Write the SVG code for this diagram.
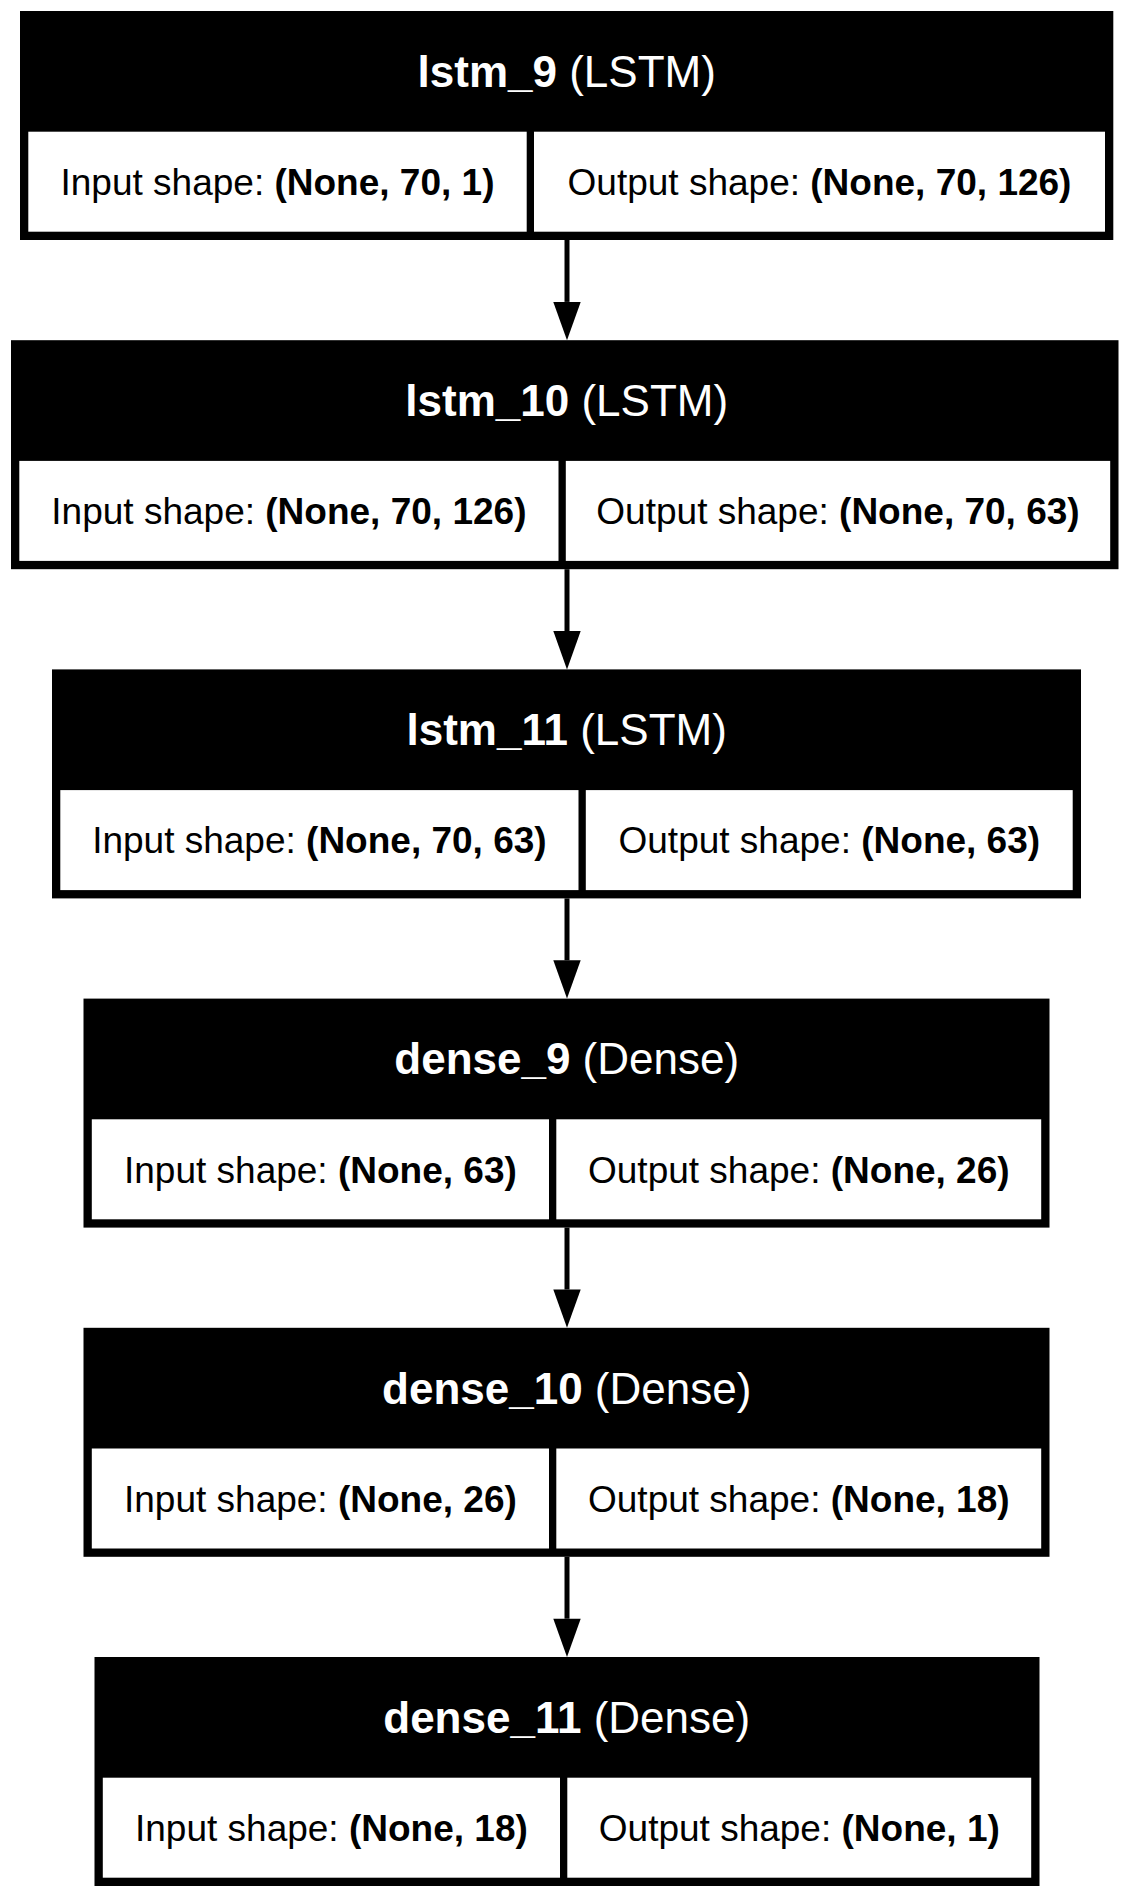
<svg xmlns="http://www.w3.org/2000/svg" width="1134" height="1897" viewBox="0 0 1134 1897">
<style>
.outer{fill:#000}
.cell{fill:#fff}
.t{font-family:"Liberation Sans",Arial,Helvetica,sans-serif;font-size:44px;fill:#fff;text-anchor:middle}
.c{font-family:"Liberation Sans",Arial,Helvetica,sans-serif;font-size:37px;fill:#000;text-anchor:middle}
.b{font-weight:bold}
.edge{stroke:#000;stroke-width:5;fill:none}
</style>
<defs>
<marker id="ah" markerUnits="userSpaceOnUse" markerWidth="39" markerHeight="28" refX="0" refY="13.7" orient="auto" viewBox="0 0 39 28" overflow="visible">
<path d="M0,0 L38.3,13.7 L0,27.4 Z" fill="#000"/>
</marker>
</defs>
<rect width="1134" height="1897" fill="#fff"/>
<g id="connectors">
<path class="edge" d="M567,240 V301.9" marker-end="url(#ah)"/>
<path class="edge" d="M567,569.2 V631.1" marker-end="url(#ah)"/>
<path class="edge" d="M567,898.4 V960.3" marker-end="url(#ah)"/>
<path class="edge" d="M567,1227.6 V1289.5" marker-end="url(#ah)"/>
<path class="edge" d="M567,1556.8 V1618.7" marker-end="url(#ah)"/>
</g>
<g id="lstm_9">
<rect class="outer" x="20" y="11" width="1093.3" height="229"/>
<rect class="cell" x="28.3" y="131.7" width="498.4" height="100"/>
<rect class="cell" x="534" y="131.7" width="571" height="100"/>
<text class="t" x="566.7" y="86.7"><tspan class="b">lstm_9</tspan> (LSTM)</text>
<text class="c" x="277.5" y="195">Input shape: <tspan class="b">(None, 70, 1)</tspan></text>
<text class="c" x="819.5" y="195">Output shape: <tspan class="b">(None, 70, 126)</tspan></text>
</g>
<g id="lstm_10">
<rect class="outer" x="11" y="340.2" width="1107.5" height="229"/>
<rect class="cell" x="19.3" y="460.9" width="539.2" height="100"/>
<rect class="cell" x="565.8" y="460.9" width="544.4" height="100"/>
<text class="t" x="566.7" y="415.9"><tspan class="b">lstm_10</tspan> (LSTM)</text>
<text class="c" x="288.9" y="524.2">Input shape: <tspan class="b">(None, 70, 126)</tspan></text>
<text class="c" x="838" y="524.2">Output shape: <tspan class="b">(None, 70, 63)</tspan></text>
</g>
<g id="lstm_11">
<rect class="outer" x="52" y="669.4" width="1029" height="229"/>
<rect class="cell" x="60.3" y="790.1" width="518.2" height="100"/>
<rect class="cell" x="585.8" y="790.1" width="486.9" height="100"/>
<text class="t" x="566.7" y="745.1"><tspan class="b">lstm_11</tspan> (LSTM)</text>
<text class="c" x="319.4" y="853.4">Input shape: <tspan class="b">(None, 70, 63)</tspan></text>
<text class="c" x="829.3" y="853.4">Output shape: <tspan class="b">(None, 63)</tspan></text>
</g>
<g id="dense_9">
<rect class="outer" x="83.5" y="998.6" width="966" height="229"/>
<rect class="cell" x="91.8" y="1119.3" width="457.2" height="100"/>
<rect class="cell" x="556.3" y="1119.3" width="484.9" height="100"/>
<text class="t" x="566.7" y="1074.3"><tspan class="b">dense_9</tspan> (Dense)</text>
<text class="c" x="320.4" y="1182.6">Input shape: <tspan class="b">(None, 63)</tspan></text>
<text class="c" x="798.8" y="1182.6">Output shape: <tspan class="b">(None, 26)</tspan></text>
</g>
<g id="dense_10">
<rect class="outer" x="83.5" y="1327.8" width="966" height="229"/>
<rect class="cell" x="91.8" y="1448.5" width="457.2" height="100"/>
<rect class="cell" x="556.3" y="1448.5" width="484.9" height="100"/>
<text class="t" x="566.7" y="1403.5"><tspan class="b">dense_10</tspan> (Dense)</text>
<text class="c" x="320.4" y="1511.8">Input shape: <tspan class="b">(None, 26)</tspan></text>
<text class="c" x="798.8" y="1511.8">Output shape: <tspan class="b">(None, 18)</tspan></text>
</g>
<g id="dense_11">
<rect class="outer" x="94.5" y="1657" width="945" height="229"/>
<rect class="cell" x="102.8" y="1777.7" width="457.2" height="100"/>
<rect class="cell" x="567.3" y="1777.7" width="463.9" height="100"/>
<text class="t" x="566.7" y="1732.7"><tspan class="b">dense_11</tspan> (Dense)</text>
<text class="c" x="331.4" y="1841">Input shape: <tspan class="b">(None, 18)</tspan></text>
<text class="c" x="799.3" y="1841">Output shape: <tspan class="b">(None, 1)</tspan></text>
</g>
</svg>
